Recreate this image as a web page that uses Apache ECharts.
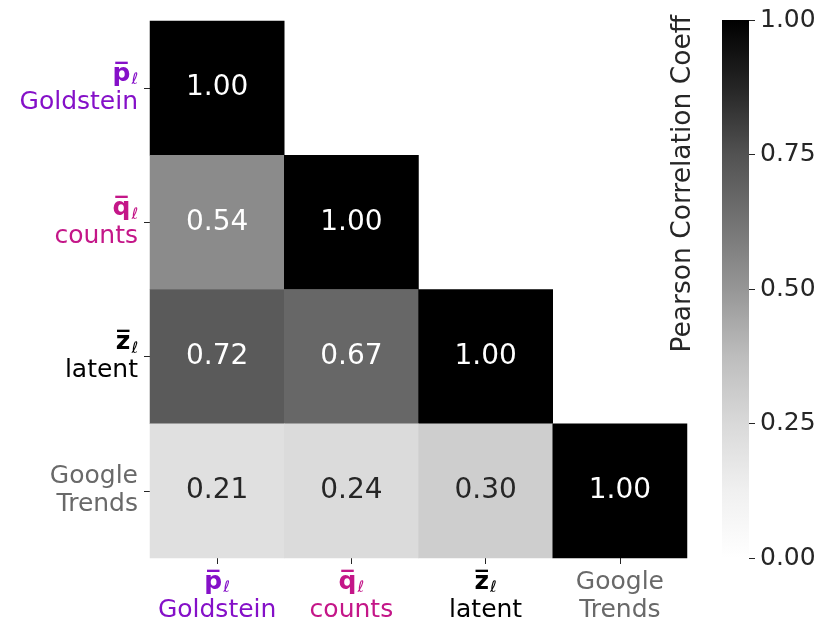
<!DOCTYPE html>
<html>
<head>
<meta charset="utf-8">
<script src="https://cdn.jsdelivr.net/npm/echarts@6/dist/echarts.min.js"></script>
<style>
html,body{margin:0;padding:0;background:#fff;}
#chart{width:831px;height:637px;}
</style>
</head>
<body>
<div id="chart"></div>
<script>
// ---- data ----
const categories = ['Goldstein', 'counts', 'latent', 'Google Trends'];
const rowGoldstein = [1.00];
const rowCounts = [0.54, 1.00];
const rowLatent = [0.72, 0.67, 1.00];
const rowTrends = [0.21, 0.24, 0.30, 1.00];
const colorbarTicks = [0.00, 0.25, 0.50, 0.75, 1.00];

const rows = [rowGoldstein, rowCounts, rowLatent, rowTrends];
const FONT = 'DejaVu Sans';
// matplotlib "Greys" colormap stops (value 0 -> white, 1 -> black)
const greys = [255, 240, 217, 189, 150, 115, 82, 37, 0];
function greyOf(v) {
  const t = Math.max(0, Math.min(1, v)) * (greys.length - 1);
  const i = Math.min(greys.length - 2, Math.floor(t));
  const g = Math.round(greys[i] + (greys[i + 1] - greys[i]) * (t - i));
  return 'rgb(' + g + ',' + g + ',' + g + ')';
}

const heatData = [];
rows.forEach((r, yi) => {
  r.forEach((v, xi) => {
    heatData.push({
      value: [xi, yi, v],
      itemStyle: { color: greyOf(v) },
      label: { color: v > 0.5 ? '#ffffff' : '#262626' }
    });
  });
});

const labelFmt = {
  'Goldstein': '{pg|p\u0305}{sg|\u2113}\n{tg|Goldstein}',
  'counts': '{pc|q\u0305}{sc|\u2113}\n{tc|counts}',
  'latent': '{pl|z\u0305}{sl|\u2113}\n{tl|latent}',
  'Google Trends': '{tt|Google}\n{tt|Trends}'
};
const cGold = '#8510c8', cCnt = '#c41688', cLat = '#000000', cGT = '#696969';
function rich(align) {
  const sym = (c) => ({ color: c, fontFamily: FONT, fontWeight: 'bold', fontSize: 25, lineHeight: 28, align: align });
  const sub = (c) => ({ color: c, fontFamily: FONT, fontStyle: 'italic', fontSize: 16, lineHeight: 28, verticalAlign: 'bottom', padding: [0, 0, 0, 1], align: align });
  const txt = (c) => ({ color: c, fontFamily: FONT, fontSize: 25, lineHeight: 28, align: align });
  return {
    pg: sym(cGold), sg: sub(cGold), tg: txt(cGold),
    pc: sym(cCnt), sc: sub(cCnt), tc: txt(cCnt),
    pl: sym(cLat), sl: sub(cLat), tl: txt(cLat),
    tt: txt(cGT)
  };
}

// gradient for the colour bar: top (value 1) black, bottom (value 0) white
const gradStops = greys.map((g, i) => ({
  offset: 1 - i / (greys.length - 1),
  color: 'rgb(' + g + ',' + g + ',' + g + ')'
})).sort((a, b) => a.offset - b.offset);

const chart = echarts.init(document.getElementById('chart'), null, { renderer: 'canvas' });
chart.setOption({
  animation: false,
  backgroundColor: '#ffffff',
  grid: [
    { left: 150, top: 21, width: 537, height: 537 },
    { left: 722, top: 20, width: 27, height: 538 }
  ],
  xAxis: [
    {
      gridIndex: 0, type: 'category', data: categories, position: 'bottom',
      axisLine: { show: false },
      axisTick: { show: true, alignWithLabel: true, length: 6, lineStyle: { color: '#262626', width: 1 } },
      axisLabel: { margin: 10, interval: 0, formatter: (v) => labelFmt[v], rich: rich('center') },
      splitLine: { show: false }
    },
    {
      gridIndex: 1, type: 'category', data: ['cb'], show: false
    }
  ],
  yAxis: [
    {
      gridIndex: 0, type: 'category', data: categories, inverse: true,
      axisLine: { show: false },
      axisTick: { show: true, alignWithLabel: true, length: 6, lineStyle: { color: '#262626', width: 1 } },
      axisLabel: { margin: 12, interval: 0, formatter: (v) => labelFmt[v], rich: rich('right') },
      splitLine: { show: false }
    },
    {
      gridIndex: 1, type: 'value', min: 0, max: 1, interval: 0.25, position: 'right',
      axisLine: { show: false },
      axisTick: { show: true, length: 6, lineStyle: { color: '#262626' } },
      axisLabel: { margin: 11, fontFamily: FONT, fontSize: 25, color: '#262626', formatter: (v) => v.toFixed(2) },
      splitLine: { show: false }
    }
  ],
  graphic: [
    {
      type: 'text', x: 683, y: 15, rotation: Math.PI / 2,
      style: { text: 'Pearson Correlation Coeff', fontFamily: FONT, fontSize: 26.5, fill: '#262626', textAlign: 'right', textVerticalAlign: 'middle' }
    }
  ],
  series: [
    {
      type: 'heatmap', xAxisIndex: 0, yAxisIndex: 0, data: heatData,
      label: { show: true, fontFamily: FONT, fontSize: 28, formatter: (p) => p.value[2].toFixed(2) },
      emphasis: { disabled: true }, itemStyle: { borderWidth: 0 }
    },
    {
      type: 'bar', xAxisIndex: 1, yAxisIndex: 1, data: [colorbarTicks[colorbarTicks.length - 1]],
      barWidth: '100%', silent: true,
      itemStyle: { color: new echarts.graphic.LinearGradient(0, 0, 0, 1, gradStops) }
    }
  ]
});
</script>
</body>
</html>
